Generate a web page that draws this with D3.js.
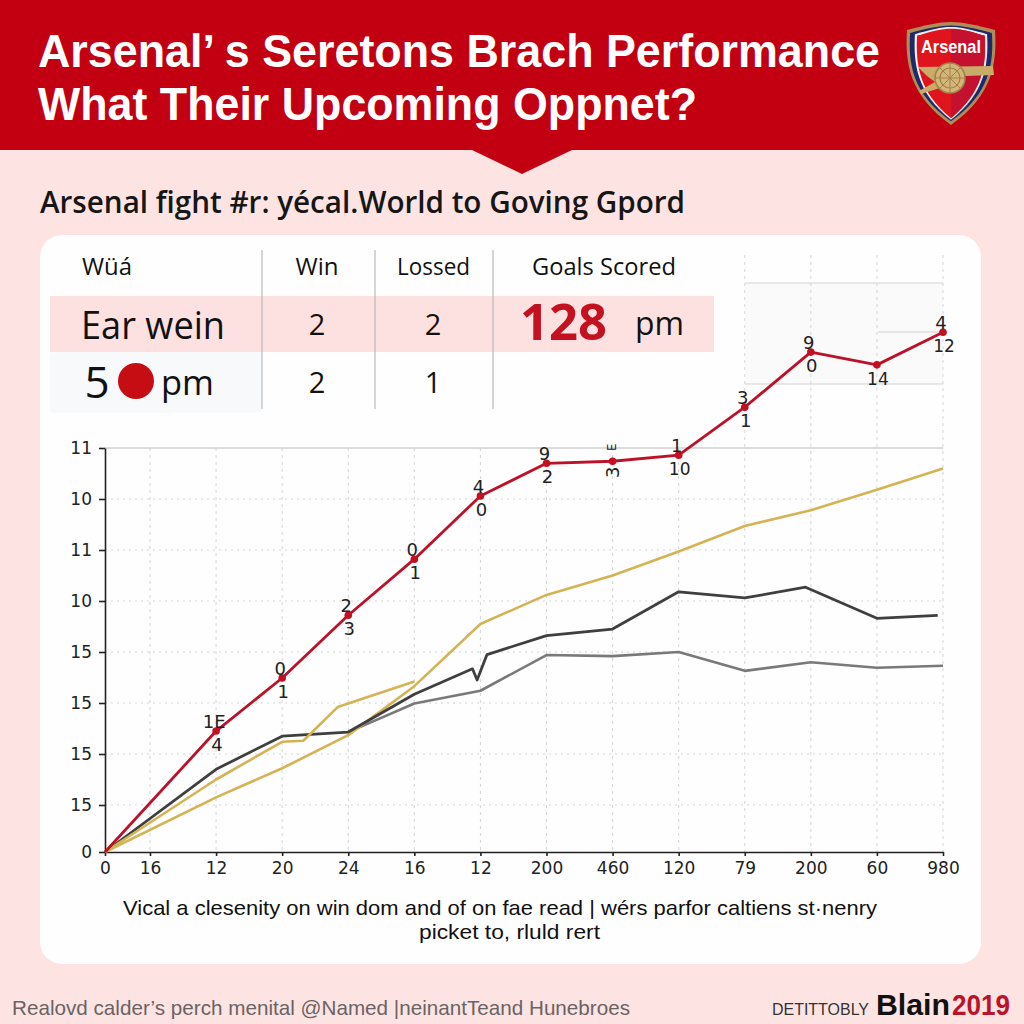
<!DOCTYPE html>
<html>
<head>
<meta charset="utf-8">
<script src="https://cdn.jsdelivr.net/npm/d3@7"></script>
<style>html,body{margin:0;padding:0;background:#fde4e3}svg{display:block}</style>
</head>
<body>
<svg id="c" width="1024" height="1024"></svg>
<script>
// ---- data (x = tick position index, y = tick position index on the drawn axis) ----
const xTickLabels = ["0","16","12","20","24","16","12","200","460","120","79","200","60","980"];
const yTickLabels = ["0","15","15","15","15","10","11","10","11"];
const redX   = [0,2,3,4,5,6,7,8,9,10,11,12,13];
const redY   = [0,2.45,3.49,4.72,5.82,7.06,7.7,7.74,7.86,8.8,9.88,9.63,10.27];
const redTop = ["","1E","0","2","0","4","9","E","1","3","9","","4"];
const redBot = ["","4","1","3","1","0","2","3","10","1","0","14","12"];
const goldAX = [0,2,3,3.32,3.84,5];
const goldAY = [0,1.5,2.24,2.26,2.92,3.42];
const goldBX = [0,2,3,4,5,6,7,8,9,10,11,12,13];
const goldBY = [0,1.15,1.72,2.37,3.33,4.55,5.12,5.5,5.97,6.47,6.78,7.18,7.6];
const darkX  = [0,2,3,4,5,5.88,5.95,6.1,7,8,9,10,10.92,12,12.92];
const darkY  = [0,1.7,2.35,2.43,3.17,3.67,3.45,3.95,4.32,4.45,5.18,5.06,5.27,4.66,4.72];
const grayX  = [4,5,6,7,8,9,10,11,12,13];
const grayY  = [2.43,2.99,3.24,3.94,3.92,4,3.63,3.8,3.69,3.73];
const tableHead = ["Wüá","Win","Lossed","Goals Scored"];
const row1 = ["Ear wein","2","2","128","pm"];
const row2 = ["5","pm","2","1"];

const svg = d3.select("#c");
const FONT = "'Open Sans','Noto Sans',sans-serif";
const NARROW = "'Liberation Sans',sans-serif";
function fit(text, x, y, w, size, opts={}) {
  return svg.append("text").attr("x",x).attr("y",y).text(text)
    .attr("font-family",opts.font||FONT).attr("font-size",size)
    .attr("font-weight",opts.weight||400).attr("fill",opts.fill||"#111")
    .attr("textLength",w).attr("lengthAdjust","spacingAndGlyphs");
}
function mid(text, x, y, size, opts={}) {
  return svg.append("text").attr("x",x).attr("y",y).text(text).attr("text-anchor","middle")
    .attr("font-family",opts.font||FONT).attr("font-size",size)
    .attr("font-weight",opts.weight||400).attr("fill",opts.fill||"#111");
}

// background + header
svg.append("rect").attr("width",1024).attr("height",1024).attr("fill","#fde4e3");
svg.append("rect").attr("width",1024).attr("height",150).attr("fill","#c20012");
svg.append("path").attr("d","M472,150L522,174L572,150Z").attr("fill","#c20012");
fit("Arsenal’ s Seretons Brach Performance",38,67,842,45.5,{weight:700,fill:"#fff",font:NARROW});
fit("What Their Upcoming Oppnet?",38,120,659,45.5,{weight:700,fill:"#fff",font:NARROW});

// crest
const crest = svg.append("g").attr("transform","translate(951,73)");
const shield = "M-44,-43C-25,-48 -12,-51 0,-51C12,-51 25,-48 44,-43C46,-10 42,22 0,52C-42,22 -46,-10 -44,-43Z";
crest.append("path").attr("d",shield).attr("fill","#b08d57");
crest.append("path").attr("d",shield).attr("fill","#1b2a6b").attr("transform","scale(.93)");
crest.append("path").attr("d",shield).attr("fill","#f3eeee").attr("transform","scale(.82,.9)");
crest.append("path").attr("d",shield).attr("fill","#e0141c").attr("transform","scale(.77,.87)");
crest.append("path").attr("d","M0,-44C12,-44 22,-41 33,-37C36,-10 32,18 0,45Z").attr("fill","#c4112f");
crest.append("text").attr("x",0).attr("y",-20).attr("text-anchor","middle").text("Arsenal")
  .attr("font-family",NARROW).attr("font-weight",700).attr("font-size",19).attr("fill","#fff")
  .attr("textLength",60).attr("lengthAdjust","spacingAndGlyphs");
crest.append("path").attr("d","M-33,-6L42,-7L43,2L14,3L-8,14L-30,21L-32,18L-16,9L-24,3Z").attr("fill","#c9ab6a");
crest.append("circle").attr("cx",-1).attr("cy",5).attr("r",15).attr("fill","#d2b779").attr("stroke","#a5824a").attr("stroke-width",1.6);
crest.append("circle").attr("cx",-1).attr("cy",5).attr("r",10).attr("fill","none").attr("stroke","#a5824a").attr("stroke-width",1.2);
crest.append("path").attr("d","M-1,-10V20M-16,5H14M-11.6,-5.6L9.6,15.6M9.6,-5.6L-11.6,15.6").attr("stroke","#a5824a").attr("stroke-width",1);

// subtitle
fit("Arsenal fight #r: yécal.World to Goving Gpord",40,213,645,31,{weight:600,fill:"#161616"});

// card
svg.append("rect").attr("x",40).attr("y",235).attr("width",941).attr("height",729).attr("rx",22).attr("fill","#fefefe");
svg.append("rect").attr("x",745).attr("y",283).attr("width",198).attr("height",101).attr("fill","#fafafa");

// table
svg.append("rect").attr("x",50).attr("y",296).attr("width",664).attr("height",56).attr("fill","#fde0e0");
svg.append("rect").attr("x",50).attr("y",352).attr("width",212).attr("height",61).attr("rx",4).attr("fill","#f7f9fb");
svg.append("g").selectAll("line").data([262,375,493]).join("line")
  .attr("x1",d=>d).attr("x2",d=>d).attr("y1",250).attr("y2",409).attr("stroke","#b9b9b9").attr("stroke-width",1.2);
fit(tableHead[0],82,275,50,24);
mid(tableHead[1],317,275,24);
fit(tableHead[2],397,275,73,24);
fit(tableHead[3],532,275,144,24);
fit(row1[0],81,339,144,38);
mid(row1[1],317,335,29);
mid(row1[2],433,335,29);
fit(row1[3],520,340,87,51,{weight:700,fill:"#c4111f"});
fit(row1[4],635,335,49,32);
mid(row2[0],97,398,44);
svg.append("circle").attr("cx",136).attr("cy",381).attr("r",18).attr("fill","#c70d14");
fit(row2[1],161,395,53,35);
mid(row2[2],317,393,29);
mid(row2[3],433,393,29);

// scales
const x = d3.scaleLinear().domain([0,1,13]).range([105,150,943]);
const y = d3.scaleLinear().domain([0,1,8]).range([852,805,448]);
const xIdx = d3.range(xTickLabels.length), yIdx = d3.range(yTickLabels.length);

// extra panel rules
const rules = [[745,943,283],[745,943,384],[878,943,332]];
svg.append("g").selectAll("line").data(rules).join("line")
  .attr("x1",d=>d[0]).attr("x2",d=>d[1]).attr("y1",d=>d[2]).attr("y2",d=>d[2]).attr("stroke","#d2d2d2").attr("stroke-width",1.2);

// grid
const grid = svg.append("g");
grid.selectAll(".h").data(d3.range(1,8)).join("line")
  .attr("x1",x(0)).attr("x2",x(13)).attr("y1",d=>y(d)).attr("y2",d=>y(d))
  .attr("stroke","#d5d5d5").attr("stroke-dasharray","2 4");
grid.append("line").attr("x1",x(0)).attr("x2",x(13)).attr("y1",y(8)).attr("y2",y(8)).attr("stroke","#cfcfcf").attr("stroke-width",1.3);
grid.selectAll(".v").data(xIdx.slice(1)).join("line")
  .attr("x1",d=>x(d)).attr("x2",d=>x(d)).attr("y1",d=>d>=10?255:y(8)).attr("y2",y(0))
  .attr("stroke","#d5d5d5").attr("stroke-dasharray","3 4");

// axes
const axX = d3.axisBottom(x).tickValues(xIdx).tickFormat(d=>xTickLabels[d]).tickSize(4).tickPadding(6).tickSizeOuter(0);
const axY = d3.axisLeft(y).tickValues(yIdx).tickFormat(d=>yTickLabels[d]).tickSize(6).tickPadding(7).tickSizeOuter(0);
const gx = svg.append("g").attr("transform","translate(0,852)").call(axX);
const gy = svg.append("g").attr("transform","translate(105,0)").call(axY);
[gx,gy].forEach(g=>{
  g.selectAll("path,line").attr("stroke","#222").attr("stroke-width",1.6);
  g.selectAll("text").attr("font-family","'DejaVu Sans',sans-serif").attr("font-size",17).attr("fill","#222");
});

// series
const line = d3.line().x(d=>x(d[0])).y(d=>y(d[1]));
const series = [
  {xs:grayX, ys:grayY, c:"#797979", w:2.6},
  {xs:goldBX,ys:goldBY,c:"#d4b355", w:2.6},
  {xs:darkX, ys:darkY, c:"#3f3f3f", w:2.8},
  {xs:goldAX,ys:goldAY,c:"#d4b355", w:2.6},
  {xs:redX,  ys:redY,  c:"#bb1229", w:2.8}
];
svg.append("g").selectAll("path").data(series).join("path")
  .attr("d",s=>line(s.xs.map((v,i)=>[v,s.ys[i]])))
  .attr("fill","none").attr("stroke",s=>s.c).attr("stroke-width",s=>s.w).attr("stroke-linejoin","round");

const pts = redX.map((v,i)=>({x:v,y:redY[i],t:redTop[i],b:redBot[i]})).slice(1);
svg.append("g").selectAll("circle").data(pts).join("circle")
  .attr("cx",d=>x(d.x)).attr("cy",d=>y(d.y)).attr("r",3.8).attr("fill","#c30f20");
const lab = svg.append("g").attr("font-family","'DejaVu Sans',sans-serif").attr("font-size",18).attr("fill","#222").attr("text-anchor","middle");
lab.selectAll(".t").data(pts).join("text").text(d=>d.t)
  .attr("transform",d=>d.x===8
    ? `translate(${x(d.x)},${y(d.y)-14}) rotate(-90) scale(.65) translate(0,6)`
    : `translate(${x(d.x)-2},${y(d.y)-3})`);
lab.selectAll(".b").data(pts).join("text").text(d=>d.b)
  .attr("font-size",d=>d.b.length>1?17:18)
  .attr("transform",d=>d.x===8
    ? `translate(${x(d.x)},${y(d.y)+11}) rotate(-90) translate(0,6)`
    : `translate(${x(d.x)+1},${y(d.y)+20})`);

// caption + footer
fit("Vical a clesenity on win dom and of on fae read | wérs parfor caltiens st·nenry",123,915,754,21,{font:NARROW});
fit("picket to, rluld rert",419,939,181,21,{font:NARROW});
fit("Realovd calder’s perch menital @Named |neinantTeand Hunebroes",12,1015,618,21,{fill:"#6a6364",font:NARROW});
fit("DETITTOBLY",772,1015,97,17,{fill:"#333",font:NARROW});
fit("Blain",876,1015,74,29,{weight:700,fill:"#111",font:NARROW});
fit("2019",952,1015,58,29,{weight:700,fill:"#b8142a",font:NARROW});
</script>
</body>
</html>
